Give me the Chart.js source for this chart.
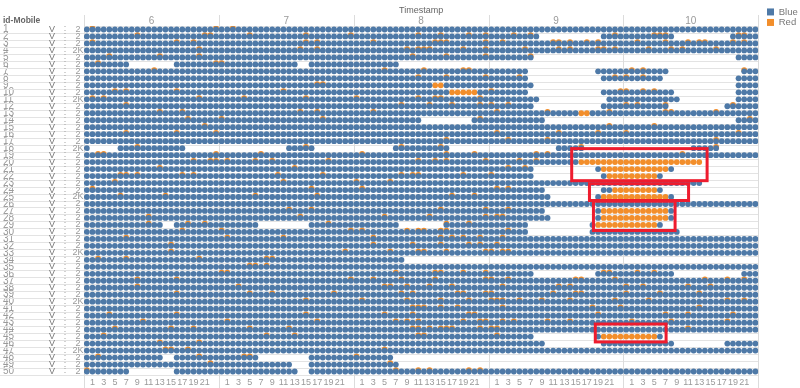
<!DOCTYPE html>
<html><head><meta charset="utf-8">
<script src="https://cdn.jsdelivr.net/npm/chart.js@4"></script>
<style>html,body{margin:0;padding:0;background:#fff}#w{width:800px;height:388px;position:relative}</style>
</head><body><div id="w"><canvas id="c"></canvas></div>
<script>
const rowIds = [1,2,3,4,5,6,7,8,9,10,11,12,13,14,15,16,17,18,19,20,21,22,23,24,25,26,27,28,29,30,31,32,33,34,35,36,37,38,39,40,41,42,43,44,45,46,47,48,49,50];
const days = ['6','7','8','9','10'];
const hourLabels = [1,3,5,7,9,11,13,15,17,19,21];
const rowsWith2K = [4,11,18,25,33,40,47];
const headerLabel = 'id-Mobile';
const seriesNames = ['Blue','Red'];
// hours (0 = first hour of day 6) with no record, per id
const rowGaps = {
 2:[[81,91],[105,114]], 5:[[80,115]], 6:[[8,15],[38,39],[56,119]], 7:[[79,90],[104,116]],
 8:[[79,91],[103,115]], 9:[[80,115]], 10:[[79,91],[105,115]], 11:[[81,92],[106,115]],
 12:[[80,91],[104,113]], 14:[[60,68],[82,115]],
 18:[[1,5],[18,35],[41,54],[65,83],[89,107],[113,119]],
 20:[[110,119]], 21:[[80,90],[105,119]], 22:[[80,91],[103,119]], 23:[[110,119]],
 24:[[82,91],[103,119]], 25:[[83,90],[105,119]], 27:[[82,90],[105,119]], 28:[[83,90],[105,119]],
 29:[[14,15],[31,39],[56,63],[79,89],[103,119]], 30:[[79,89],[106,119]],
 34:[[57,119]], 36:[[80,90],[105,116]], 45:[[80,90],[103,119]], 46:[[82,91],[105,113]],
 48:[[14,15],[31,39],[55,119]], 49:[[37,39],[56,119]], 50:[[8,15],[38,39]]
};
// fully red hours: [id, from, to]
const solidRed = [[9,62,63],[10,65,69],[13,88,89],[20,88,109],[21,92,103],[22,93,101],[24,94,101],[25,92,103],[27,92,103],[28,92,103],[29,91,101],[45,92,101]];
// hours where a red record sits behind a blue one
const redBehind = {
 1:[1,23,26],
 2:[9,21,22,29,39,47,59,63,68,71,76,79,94,101,102,103,116,117],
 3:[1,16,19,39,41,51,62,63,64,71,74,83,84,86,89,91,98,103,107,109,110,115,117],
 4:[20,38,41,57,59,60,61,67,71,78,84,86,91,92,94,100,104,106,112],
 5:[4,13,20,58,64,71,79],
 6:[2,23,24],
 7:[12,53,60,67,68,97,99,117],
 8:[59,64,71,77,94,96,99],
 9:[41,42],
 10:[5,7,16,35,72,95,96,99,101],
 11:[1,3,20,28,39,48,59,62,63,70],
 12:[7,56,61,65,70,72,75,96,98,103,115],
 13:[13,17,38,41,51,73,82,93,103,104,112],
 14:[18,24,42,70,118],
 15:[21,93,101],
 16:[7,16,23,73,84,91,96,116],
 17:[64,75,82,112],
 18:[9,39,56,63,88,112],
 19:[2,3,23,31,49,64,69,80,82,106],
 20:[19,22,23,25,30,33,43,59,62,64,71,77,80],
 21:[13,37,75,78],
 22:[6,7,9,17,19,34,42,56,58,59,67,72],
 23:[5,35,48,54],
 24:[1,40,49,73,75],
 25:[6,14,30,41,65,69],
 27:[36,40,63,71,75],
 28:[11,38,53,61,71,73,74],
 29:[11,18,21,43,64,68],
 30:[17,24,47,49,57,59,60,63,64,75],
 31:[7,25,35,51,63,65,67,70,74],
 32:[15,51,58,63,68,70,73],
 33:[15,46,54,59,60,64,71,72,74,75],
 34:[2,7,20,32,33],
 35:[29,30,32],
 36:[24,25,55,62,63,67,71,92,93,98,101],
 37:[9,16,47,51,56,62,71,72,75,87,88,94,110,114,117],
 38:[9,27,53,54,57,61,65,74,84,86,96,99,107,111],
 39:[16,29,33,44,56,58,66,67,71,72,83,87,88,96,102,109],
 40:[39,49,57,63,68,72,73,74,77,81,86,94,100,114,117],
 41:[58,59,60,63,66,74,90,95,109],
 42:[4,16,39,53,58,68,69,91,103,107,115],
 43:[10,25,41,55,57,59,67,70,71,74,76,82,86,97,104,114],
 44:[5,15,19,29,36,58,59,61,63,64,65,70,72,73,107],
 45:[3,32,37,59,60,73],
 46:[13,20],
 47:[14,15,18,53],
 48:[2,20,28,29,48],
 49:[22,54],
 50:[0,55,59,61,68,70]
};
// highlight boxes in axis units: [hourFrom, hourTo, rowFrom, rowTo]
const highlightBoxes = [[86.8,110.9,18.07,22.66],[89.96,107.6,23.1,25.5],[90.67,105.2,25.6,29.8],[91,103.6,43.2,45.76]];

const hoursPerDay = days.length ? 24 : 0, totalHours = days.length*hoursPerDay;
const inRange=(v,rs)=>(rs||[]).some(r=>v>=r[0]&&v<=r[1]);
const blueData=[], redData=[];
rowIds.forEach(id=>{
  const gaps=rowGaps[id], solid=solidRed.filter(s=>s[0]===id).map(s=>[s[1],s[2]]);
  for(let h=0;h<totalHours;h++){
    if(inRange(h,gaps)) continue;
    if(inRange(h,solid)) { redData.push({x:h+.5,y:id}); continue; }
    blueData.push({x:h+.5,y:id});
    if((redBehind[id]||[]).includes(h)) redData.push({x:h+.5,y:id-.18});
  }
});
const BLUE='#4e79a7', ORANGE='#f28e2b', TXT='#9a9a9a', HEAD='#666', LINE='#e3e3e3', FONT='"Liberation Sans",Arial,sans-serif';

const decor={
 id:'decor',
 beforeLayout(chart){ if(chart.legend) chart.legend.afterFit=function(){this.width=39;}; },
 afterLayout(chart){ if(chart.legend){ chart.legend.left=766; } },
 beforeDatasetsDraw(chart){
  const {ctx,scales:{x,y}}=chart; ctx.save(); ctx.lineWidth=1; ctx.strokeStyle=LINE;
  for(let r=0;r<=rowIds.length;r++){
    const p=Math.round(y.getPixelForValue(r+.5))+.5;
    ctx.beginPath(); ctx.moveTo(r===0?x.left:0,p); ctx.lineTo(x.right,p); ctx.stroke();
  }
  ctx.strokeStyle='#dcdcdc';
  for(let d=0;d<=days.length;d++){
    const p=Math.round(x.getPixelForValue(d*hoursPerDay))+.5;
    ctx.beginPath(); ctx.moveTo(p,15); ctx.lineTo(p,388); ctx.stroke();
  }
  ctx.restore();
 },
 afterDatasetsDraw(chart){
  const {ctx,scales:{x,y}}=chart; ctx.save();
  ctx.strokeStyle='#ee1c2e'; ctx.lineWidth=3;
  highlightBoxes.forEach(b=>{
    const l=x.getPixelForValue(b[0]),r=x.getPixelForValue(b[1]),t=y.getPixelForValue(b[2]),u=y.getPixelForValue(b[3]);
    ctx.strokeRect(l,t,r-l,u-t);
  });
  ctx.textBaseline='middle'; ctx.textAlign='center';
  rowIds.forEach(id=>{
    const p=y.getPixelForValue(id);
    ctx.font='9px '+FONT; ctx.fillStyle='#777'; ctx.fillText('V',52,p);
    ctx.fillStyle=TXT; ctx.fillText(':',65,p-.5);
    ctx.fillText(rowsWith2K.includes(id)?'2K':'2',78,p);
  });
  ctx.textAlign='left'; ctx.font='bold 8.5px '+FONT; ctx.fillStyle=HEAD; ctx.fillText(headerLabel,3,21);
  ctx.restore();
 }
};

new Chart(document.getElementById('c'),{
 type:'scatter',
 data:{datasets:[
  {label:seriesNames[0],data:blueData,backgroundColor:BLUE,borderColor:BLUE,borderWidth:0,pointRadius:2.9,pointHoverRadius:2.9,order:1},
  {label:seriesNames[1],data:redData,backgroundColor:ORANGE,borderColor:ORANGE,borderWidth:0,pointRadius:2.9,pointHoverRadius:2.9,order:2}
 ]},
 plugins:[decor],
 options:{
  responsive:true,maintainAspectRatio:false,animation:false,
  layout:{padding:{left:3,top:0,right:0,bottom:0}},
  plugins:{
   tooltip:{enabled:false},
   legend:{position:'right',align:'start',
    title:{display:true,text:' ',font:{size:1},padding:{top:5,bottom:0}},
    labels:{boxWidth:7,boxHeight:7,padding:1,color:'#777',font:{size:9.5,family:FONT}}}
  },
  scales:{
   x:{type:'linear',position:'bottom',min:0,max:totalHours,
    grid:{display:false,drawTicks:false},border:{display:false},
    afterBuildTicks(a){const t=[];days.forEach((d,i)=>hourLabels.forEach(h=>t.push({value:i*hoursPerDay+h+.5})));a.ticks=t;},
    afterFit(a){a.height=13;},
    ticks:{autoSkip:false,maxRotation:0,padding:2,color:TXT,font:{size:9,family:FONT},
     callback(v){return String(Math.floor(v)%hoursPerDay);}}},
   x2:{type:'linear',position:'top',min:0,max:totalHours,
    grid:{display:false,drawTicks:false},border:{display:false},
    afterBuildTicks(a){a.ticks=days.map((d,i)=>({value:i*hoursPerDay+hoursPerDay/2}));},
    afterFit(a){a.height=26;},
    title:{display:true,text:'Timestamp',color:HEAD,font:{size:9,family:FONT},padding:{top:5,bottom:0}},
    ticks:{autoSkip:false,maxRotation:0,padding:-1,color:TXT,font:{size:10,family:FONT},
     callback(v){return days[Math.floor(v/hoursPerDay)];}}},
   y:{type:'linear',position:'left',reverse:true,min:.5,max:rowIds.length+.5,
    grid:{display:false,drawTicks:false},border:{display:false},
    afterBuildTicks(a){a.ticks=rowIds.map(v=>({value:v}));},
    afterFit(a){a.width=81;},
    ticks:{autoSkip:false,crossAlign:'far',padding:0,color:TXT,font:{size:10,family:FONT},
     callback(v){return String(v);}}}
  }
 }
});
</script></body></html>
